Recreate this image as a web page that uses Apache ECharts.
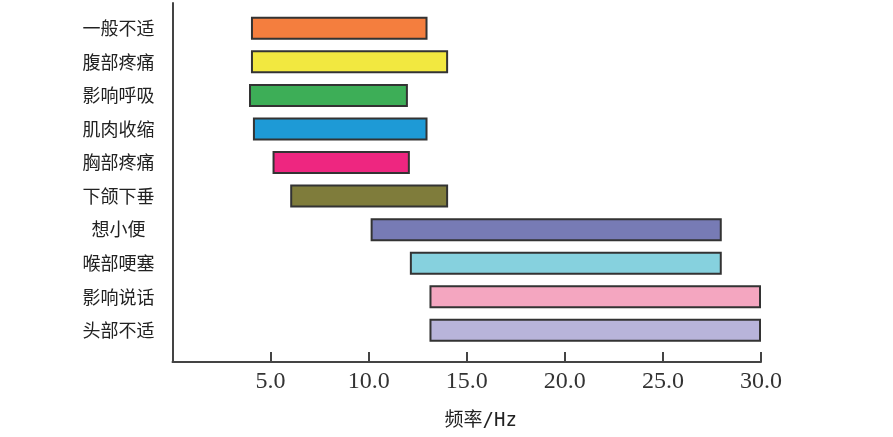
<!DOCTYPE html>
<html>
<head>
<meta charset="utf-8">
<script src="https://cdn.jsdelivr.net/npm/echarts@6/dist/echarts.min.js"></script>
<style>html,body{margin:0;padding:0;background:#fff;}#c{width:893px;height:437px;}</style>
</head>
<body>
<div id="c"></div>
<script>
const categories = ['一般不适','腹部疼痛','影响呼吸','肌肉收缩','胸部疼痛','下颌下垂','想小便','喉部哽塞','影响说话','头部不适'];
const startValues = [4.0, 4.0, 3.9, 4.1, 5.1, 6.0, 10.1, 12.1, 13.1, 13.1];
const endValues   = [13.0, 14.05, 12.0, 13.0, 12.1, 14.05, 28.0, 28.0, 30.0, 30.0];
const barColors = ['#F47E3E','#F2E840','#3DAE57','#1E9AD6','#EE2680','#7F7C3B','#777BB5','#86D1DE','#F4A6C0','#B8B4DA'];
const xMin = 0, xMax = 30, xInterval = 5;
const xName = '频率/Hz';

const chart = echarts.init(document.getElementById('c'), null, {renderer: 'canvas'});
const axisColor = '#444';
const option = {
  animation: false,
  backgroundColor: '#fff',
  grid: [
    {left: 172.5, right: 132, top: 3, bottom: 75, containLabel: false},
    {left: 172.5, right: 132, top: 11.5, height: 335.6, containLabel: false}
  ],
  xAxis: [
    {
      type: 'value', gridIndex: 0, min: xMin, max: xMax, interval: xInterval,
      axisLine: {show: true, onZero: false, lineStyle: {color: axisColor, width: 2}},
      axisTick: {show: true, inside: true, length: 10, lineStyle: {color: axisColor, width: 2}},
      axisLabel: {
        margin: 8, color: '#333', fontFamily: '"Liberation Serif", "Times New Roman", serif', fontSize: 24,
        formatter: v => v === 0 ? '' : v.toFixed(1)
      },
      splitLine: {show: false},
      name: xName, nameLocation: 'middle', nameGap: 50,
      nameTextStyle: {fontFamily: '"DejaVu Sans Mono", "Noto Sans CJK SC"', fontSize: 19, color: '#222', padding: [0,0,0,28]}
    },
    {
      type: 'value', gridIndex: 1, min: xMin, max: xMax, show: false
    }
  ],
  yAxis: [
    {
      type: 'value', gridIndex: 0, min: 0, max: 1,
      axisLine: {show: true, lineStyle: {color: axisColor, width: 2}},
      axisTick: {show: false}, axisLabel: {show: false}, splitLine: {show: false}
    },
    {
      type: 'category', gridIndex: 1, data: categories, inverse: true,
      axisLine: {show: false}, axisTick: {show: false}, splitLine: {show: false},
      axisLabel: {margin: 54, align: 'center', color: '#222', fontFamily: '"Noto Sans CJK SC"', fontSize: 18}
    }
  ],
  series: [
    {
      type: 'bar', xAxisIndex: 1, yAxisIndex: 1, stack: 'r', barWidth: 23,
      itemStyle: {color: 'rgba(0,0,0,0)'}, silent: true,
      data: startValues
    },
    {
      type: 'bar', xAxisIndex: 1, yAxisIndex: 1, stack: 'r', barWidth: 23,
      data: endValues.map((e, i) => ({
        value: e - startValues[i],
        itemStyle: {color: barColors[i], borderColor: '#333', borderWidth: 2}
      }))
    }
  ]
};
chart.setOption(option);
</script>
</body>
</html>
